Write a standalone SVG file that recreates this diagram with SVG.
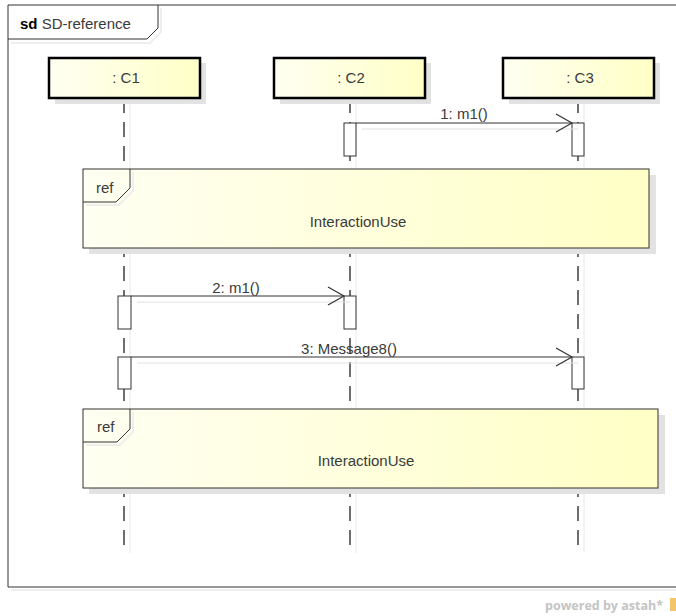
<svg xmlns="http://www.w3.org/2000/svg" width="676" height="616" viewBox="0 0 676 616">
<defs>
<linearGradient id="yg" x1="0" y1="0" x2="1" y2="0">
<stop offset="0" stop-color="#FFFFF2"/>
<stop offset="1" stop-color="#FFFFC6"/>
</linearGradient>
<marker id="open" viewBox="0 0 20 20" refX="18" refY="10" markerWidth="20" markerHeight="20" markerUnits="userSpaceOnUse" orient="auto">
<path d="M2,1 L18,10 L2,19" fill="none" stroke="#333" stroke-width="1.2"/>
</marker>
<style>
text{font-family:"Liberation Sans",Arial,sans-serif;font-size:15px;fill:#3a3a3a}
.lbl{text-anchor:middle}
.head{fill:url(#yg);stroke:#000;stroke-width:2.5}
.shadow{fill:#E2E2E2;stroke:none}
.life{stroke:#222;stroke-width:1.3;stroke-dasharray:15 9;fill:none}
.lshadow{stroke:#E8E8E8;stroke-width:1;fill:none}
.act{fill:#fff;stroke:#333;stroke-width:1}
.ref{fill:url(#yg);stroke:#333;stroke-width:1}
.msg{stroke:#333;stroke-width:1.2;fill:none;marker-end:url(#open)}
.msgs{stroke:#E0E0E0;stroke-width:1;fill:none}
</style>
</defs>
<rect width="676" height="616" fill="#fff"/>

<g id="frame">
<path d="M11,590 L680,590" stroke="#EEEEEE" stroke-width="2" fill="none"/>
<path d="M8,587 L8,5 L680,5" stroke="#333" stroke-width="1" fill="none"/>
<path d="M8,587 L680,587" stroke="#333" stroke-width="1.2" fill="none"/>
<path d="M11,43 L150,43 L161,32 L161,8" stroke="#EEEEEE" stroke-width="2" fill="none"/>
<path d="M8,39 L147,39 L158,28 L158,5" stroke="#333" stroke-width="1" fill="none"/>
<text x="20" y="29"><tspan font-weight="bold" fill="#000">sd</tspan> SD-reference</text>
</g>

<g id="lifelines">
<path class="lshadow" d="M130,100 L130,553 M356,100 L356,553 M584,100 L584,553"/>
<path class="life" d="M124,98 L124,545"/>
<path class="life" d="M350,98 L350,545"/>
<path class="life" d="M578,98 L578,545"/>
</g>

<g id="C1">
<rect class="shadow" x="55" y="63" width="151" height="41"/>
<rect class="head" x="49" y="58" width="151" height="40"/>
<text class="lbl" x="126" y="83">: C1</text>
</g>
<g id="C2">
<rect class="shadow" x="280" y="63" width="151" height="41"/>
<rect class="head" x="274" y="58" width="151" height="40"/>
<text class="lbl" x="351" y="83">: C2</text>
</g>
<g id="C3">
<rect class="shadow" x="509" y="63" width="151" height="41"/>
<rect class="head" x="503" y="58" width="151" height="40"/>
<text class="lbl" x="580" y="83">: C3</text>
</g>

<g id="activations">
<rect class="act" x="344" y="123" width="12" height="33"/>
<rect class="act" x="572" y="123" width="12" height="33"/>
<rect class="act" x="118" y="296" width="13" height="33"/>
<rect class="act" x="344" y="296" width="12" height="33"/>
<rect class="act" x="118" y="357" width="13" height="32"/>
<rect class="act" x="572" y="357" width="12" height="32"/>
</g>

<g id="ref1">
<rect class="shadow" x="89" y="175" width="567" height="79"/>
<rect class="ref" x="83" y="169" width="566" height="79"/>
<path d="M86,205 L119,205 L133,191 L133,172" stroke="#EEEEEE" stroke-width="2" fill="none"/>
<path d="M83,202 L116,202 L130,188 L130,169" stroke="#333" stroke-width="1" fill="none"/>
<text x="96" y="193">ref</text>
<text class="lbl" x="358" y="227">InteractionUse</text>
</g>

<g id="ref2">
<rect class="shadow" x="89" y="415" width="576" height="79"/>
<rect class="ref" x="83" y="409" width="575" height="79"/>
<path d="M86,445 L120,445 L133,432 L133,412" stroke="#EEEEEE" stroke-width="2" fill="none"/>
<path d="M83,442 L117,442 L130,429 L130,409" stroke="#333" stroke-width="1" fill="none"/>
<text x="97" y="432">ref</text>
<text class="lbl" x="366" y="466">InteractionUse</text>
</g>

<g id="connectors">
<path class="msgs" d="M362,129 L578,129"/>
<path class="msg" d="M356,123 L572,123"/>
<text class="lbl" x="464" y="119">1: m1()</text>
<path class="msgs" d="M137,302 L350,302"/>
<path class="msg" d="M131,296 L344,296"/>
<text class="lbl" x="236" y="293">2: m1()</text>
<path class="msgs" d="M137,363 L578,363"/>
<path class="msg" d="M131,357 L572,357"/>
<text class="lbl" x="349" y="354">3: Message8()</text>
</g>

<g id="footer">
<text x="545" y="610" style="font-family:'Open Sans','DejaVu Sans',sans-serif;font-size:12.5px;font-weight:bold;fill:#C4C4C4">powered by astah*</text>
<rect x="670" y="598" width="6" height="13" fill="#F3C46A"/>
</g>
</svg>
